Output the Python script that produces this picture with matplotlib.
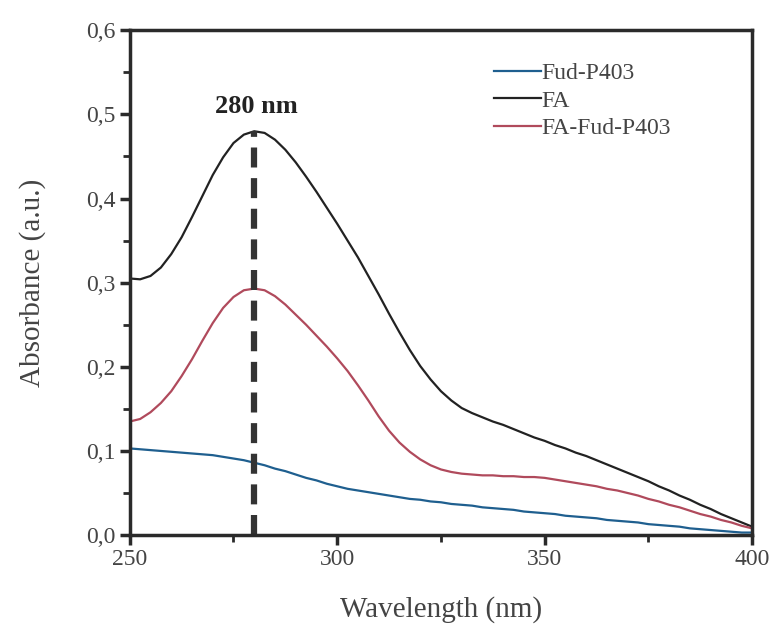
import numpy as np
import matplotlib.pyplot as plt
from matplotlib.ticker import MultipleLocator, FuncFormatter

plt.rcParams['font.family'] = ['Liberation Serif', 'DejaVu Serif']

# wavelength grid, one reading every 2.5 nm
wl = np.arange(250, 400.1, 2.5)

# absorbance values
fud = [0.103, 0.102, 0.101, 0.100, 0.099, 0.098, 0.097, 0.096, 0.095, 0.093,
       0.091, 0.089, 0.086, 0.083, 0.079, 0.076, 0.072, 0.068, 0.065, 0.061,
       0.058, 0.055, 0.053, 0.051, 0.049, 0.047, 0.045, 0.043, 0.042, 0.040,
       0.039, 0.037, 0.036, 0.035, 0.033, 0.032, 0.031, 0.030, 0.028, 0.027,
       0.026, 0.025, 0.023, 0.022, 0.021, 0.020, 0.018, 0.017, 0.016, 0.015,
       0.013, 0.012, 0.011, 0.010, 0.008, 0.007, 0.006, 0.005, 0.004, 0.003,
       0.003]

fa = [0.305, 0.304, 0.308, 0.318, 0.334, 0.354, 0.378, 0.403, 0.428, 0.449,
      0.466, 0.476, 0.480, 0.478, 0.470, 0.458, 0.443, 0.426, 0.408, 0.389,
      0.370, 0.350, 0.330, 0.308, 0.286, 0.263, 0.241, 0.220, 0.201, 0.185,
      0.171, 0.160, 0.151, 0.145, 0.140, 0.135, 0.131, 0.126, 0.121, 0.116,
      0.112, 0.107, 0.103, 0.098, 0.094, 0.089, 0.084, 0.079, 0.074, 0.069,
      0.064, 0.058, 0.053, 0.047, 0.042, 0.036, 0.031, 0.025, 0.020, 0.015,
      0.010]

fa_fud = [0.135, 0.138, 0.146, 0.157, 0.171, 0.189, 0.209, 0.231, 0.252,
          0.270, 0.283, 0.291, 0.293, 0.291, 0.284, 0.274, 0.262, 0.250,
          0.237, 0.224, 0.210, 0.195, 0.178, 0.160, 0.141, 0.124, 0.110,
          0.099, 0.090, 0.083, 0.078, 0.075, 0.073, 0.072, 0.071, 0.071,
          0.070, 0.070, 0.069, 0.069, 0.068, 0.066, 0.064, 0.062, 0.060,
          0.058, 0.055, 0.053, 0.050, 0.047, 0.043, 0.040, 0.036, 0.033,
          0.029, 0.025, 0.022, 0.018, 0.015, 0.011, 0.008]

peak_x = 280
peak_y = 0.48

fig = plt.figure(figsize=(7.77, 6.31), dpi=100)
ax = fig.add_axes([0.167, 0.152, 0.801, 0.800])

ax.plot(wl, fud, color="#1f5f8f", lw=1.6, label="Fud-P403")
ax.plot(wl, fa, color="#222222", lw=1.6, label="FA")
ax.plot(wl, fa_fud, color="#b04a5c", lw=1.6, label="FA-Fud-P403")

# dashed marker at the peak
ax.plot([peak_x, peak_x], [0, peak_y], color="#333333", lw=4.5,
        linestyle=(0, (3.2, 1.7)))
ax.text(peak_x + 0.5, 0.496, "280 nm", ha="center", va="bottom",
        fontsize=19, fontweight="bold", color="#222222")

ax.set_xlim(250, 400)
ax.set_ylim(0, 0.6)
ax.xaxis.set_major_locator(MultipleLocator(50))
ax.xaxis.set_minor_locator(MultipleLocator(25))
ax.yaxis.set_major_locator(MultipleLocator(0.1))
ax.yaxis.set_minor_locator(MultipleLocator(0.05))
ax.yaxis.set_major_formatter(FuncFormatter(lambda v, p: f"{v:.1f}".replace(".", ",")))

for s in ax.spines.values():
    s.set_linewidth(2.5)
    s.set_color("#2a2a2a")
ax.tick_params(which="major", direction="out", length=7, width=2.5,
               colors="#2a2a2a", labelsize=17, labelcolor="#444444", pad=3)
ax.tick_params(which="minor", direction="out", length=5, width=2,
               colors="#2a2a2a")

ax.set_xlabel("Wavelength (nm)", fontsize=21, color="#444444", labelpad=19)
ax.set_ylabel("Absorbance (a.u.)", fontsize=21, color="#444444", labelpad=29)

ax.legend(loc="upper left", bbox_to_anchor=(0.585, 0.936), frameon=False,
          fontsize=17, handlelength=2.0, handletextpad=0.0, labelspacing=0.25,
          borderpad=0, borderaxespad=0, labelcolor="#444444")

fig.savefig("out.png", dpi=100)
